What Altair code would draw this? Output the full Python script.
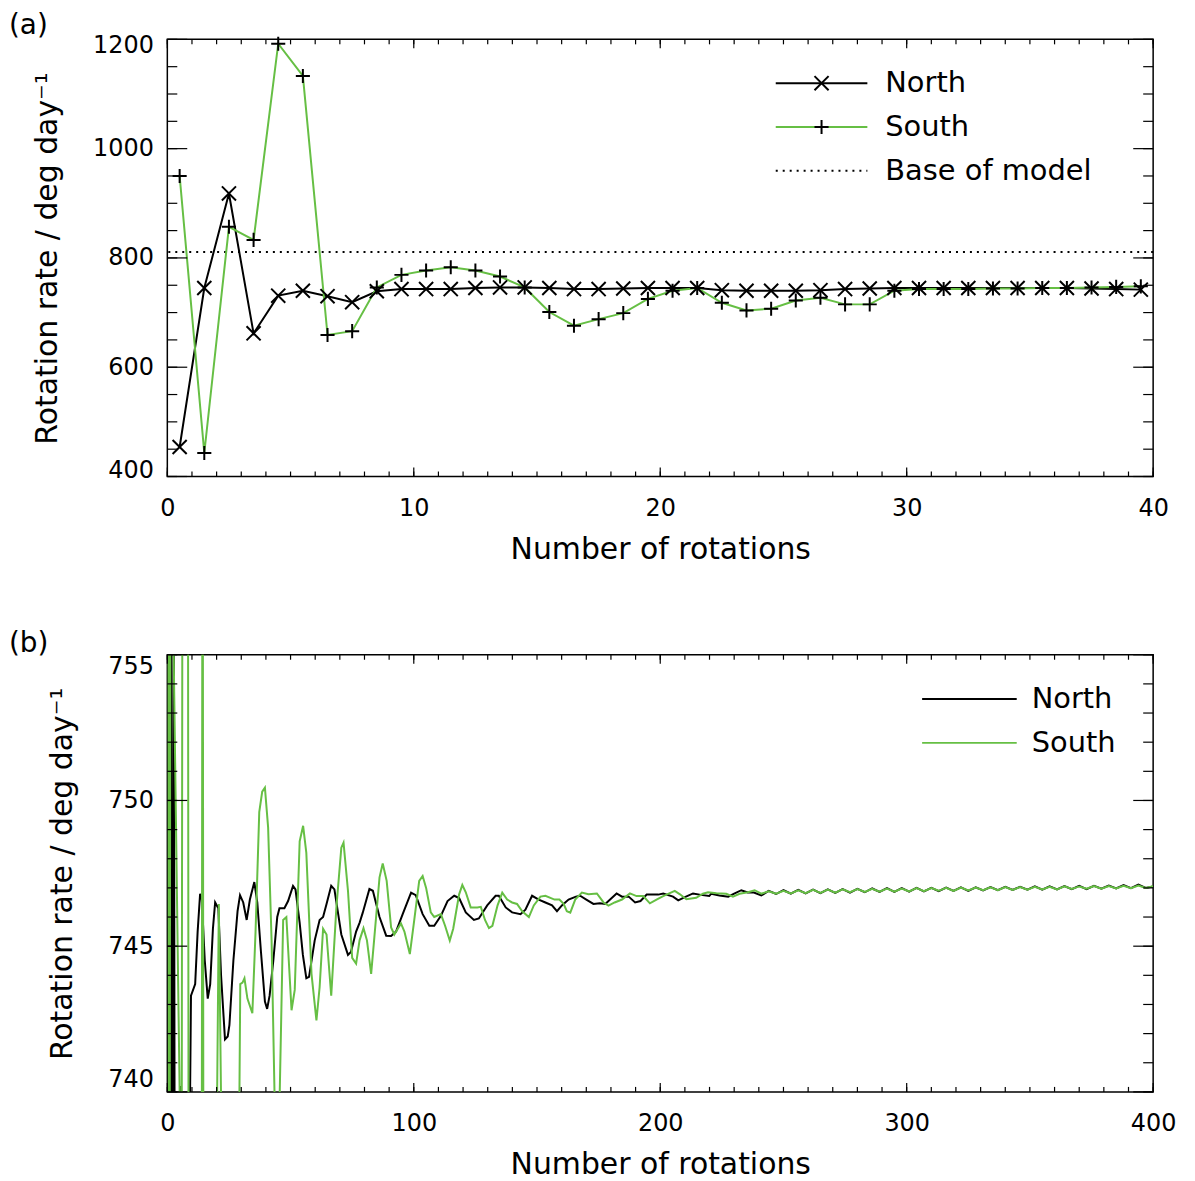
import altair as alt
import pandas as pd

# ---------------- Panel (a) data ----------------
rot_a = [0.5 + i for i in range(40)]
north_a = [454, 745, 918, 662, 731, 740, 730, 719, 739, 743,
           743, 743, 745, 746, 746, 745, 743, 743, 744, 745,
           745, 745, 741, 740, 740, 740, 741, 743, 744, 745,
           745, 745, 745, 745, 745, 745, 745, 744, 743, 742]
south_a = [950, 443, 857, 833, 1192, 1133, 659, 666, 746, 769,
           777, 783, 777, 766, 746, 701, 676, 688, 699, 725,
           740, 745, 718, 704, 707, 722, 727, 715, 715, 740,
           743, 743, 743, 744, 744, 745, 745, 746, 747, 748]
base_of_model = [811]

# ---------------- Panel (b) data ----------------
north_b_x = [0.4, 0.9, 1.5, 2.0, 2.6, 3.2, 4.0, 5.3, 6.5, 8.8, 9.6, 11.3, 12.3, 13.3, 14.0,
             15.2, 16.4, 17.4, 18.5, 19.4, 20.7, 21.8, 23.4, 24.5, 25.2, 26.8, 28.5, 29.5,
             30.8, 32.2, 33.5, 35.3, 36.5, 38.0, 39.6, 40.5, 41.5, 43.0, 44.6, 45.5, 47.5,
             49.0, 51.0, 52.0, 53.7, 55.0, 56.4, 57.5, 59.8, 61.8, 63.2, 64.6, 66.5, 67.8,
             70.6, 73.3, 74.5, 76.6, 78.0, 79.3, 82.0, 83.4, 86.1, 88.8, 90.8, 92.8, 95.5,
             98.9, 100.8, 103.6, 106.3, 108.3, 111.0, 113.7, 116.4, 118.4, 121.1, 124.4,
             126.4, 129.8, 133.2, 134.5, 137.3, 139.9, 143.3, 145.3, 148.0, 150.7, 153.4,
             156.1, 158.1, 160.1, 162.8, 165.8, 167.5, 170.0, 172.9, 175.5, 177.7, 182.3,
             184.5, 187.2, 189.8, 192.0, 194.5, 199.2, 201.2, 205.2, 207.3, 210.0, 213.3,
             216.5, 219.9, 220.7, 224.0, 227.6, 230.0, 232.9, 235.5, 238.0,
             241, 244, 247, 250, 253, 256, 259, 262, 265, 268, 271, 274, 277, 280, 283,
             286, 289, 292, 295, 298, 301, 304, 307, 310, 313, 316, 319, 322, 325, 328,
             331, 334, 337, 340, 343, 346, 349, 352, 355, 358, 361, 364, 367, 370, 373,
             376, 379, 382, 385, 388, 391, 394, 397, 400]
north_b_y = [760, 720, 762, 722, 758, 725, 736, 740.2, 735, 736, 743.3, 743.7, 745.5, 746.8, 746.6,
             744.5, 743.2, 743.7, 745.6, 746.5, 746.3, 744.0, 741.8, 741.9, 742.3, 744.5, 746.2, 746.75,
             746.5, 745.9, 746.6, 747.2, 746.5, 744.8, 743.1, 742.85, 743.3, 744.5, 746.0, 746.3, 746.3,
             746.55, 747.07, 746.95, 745.8, 744.7, 743.9, 743.95, 745.2, 745.9, 746.0, 746.45, 747.07, 746.95,
             745.4, 744.7, 744.8, 745.5, 745.8, 746.15, 746.96, 746.9, 746.0, 745.36, 745.35, 745.5, 746.1,
             746.84, 746.75, 746.1, 745.7, 745.7, 746.04, 746.55, 746.73, 746.65, 746.16, 745.9,
             745.95, 746.4, 746.73, 746.73, 746.33, 746.16, 746.1, 746.25, 746.73, 746.6, 746.5,
             746.4, 746.2, 746.4, 746.6, 746.7, 746.73, 746.6, 746.45, 746.47, 746.45, 746.81,
             746.7, 746.7, 746.5, 746.55, 746.77, 746.77, 746.81, 746.7, 746.57, 746.68, 746.81,
             746.76, 746.72, 746.8, 746.74, 746.7, 746.8, 746.92, 746.84, 746.84,
             746.74, 746.90, 746.79, 746.92, 746.80, 746.93, 746.81, 746.94, 746.82, 746.95,
             746.83, 746.96, 746.84, 746.97, 746.85, 746.98, 746.86, 746.99, 746.86, 746.99,
             746.87, 747.00, 746.88, 747.00, 746.89, 747.01, 746.90, 747.02, 746.90, 747.02,
             746.91, 747.03, 746.92, 747.04, 746.93, 747.04, 746.94, 747.05, 746.94, 747.05,
             746.95, 747.06, 746.96, 747.07, 746.96, 747.07, 746.97, 747.08, 746.98, 747.10,
             746.99, 747.11, 747.00, 747.05]

south_b_x = [0.3, 0.8, 1.3, 5.8, 6.2, 8.3, 8.7, 13.9, 14.3, 14.7, 19.8, 20.9,
             22.3, 26.0, 28.9, 29.6, 30.5, 31.3, 32.5, 34.5, 35.8, 37.3, 38.5, 39.6, 40.9,
             42.3, 43.6, 44.5, 45.5, 47.0, 48.3, 50.4, 51.7, 53.7, 55.1, 56.4, 58.5, 60.5,
             61.8, 63.2, 64.6, 66.5, 68.6, 70.6, 71.5, 73.3, 75.0, 76.6, 78.0, 79.6, 81.0,
             82.7, 84.0, 86.1, 87.4, 89.0, 90.8, 92.1, 94.8, 96.2, 98.4, 100.2, 102.2, 103.6,
             105.0, 106.9, 108.3, 111.0, 112.7, 114.6, 116.0, 118.4, 119.7, 121.1, 123.1,
             125.8, 127.2, 128.9, 130.5, 131.9, 134.0, 135.9, 137.9, 139.9, 141.9, 144.0,
             146.7, 148.7, 151.4, 153.4, 157.1, 159.1, 160.8, 162.1, 163.5, 165.5, 168.2,
             170.9, 174.3, 177.0, 179.0, 181.5, 184.5, 187.7, 190.4, 193.1, 195.8, 198.5,
             201.2, 205.9, 208.0, 210.6, 214.6, 217.3, 219.4, 222.8, 226.8, 229.5, 232.2,
             235.6, 238.3,
             241, 244, 247, 250, 253, 256, 259, 262, 265, 268, 271, 274, 277, 280, 283,
             286, 289, 292, 295, 298, 301, 304, 307, 310, 313, 316, 319, 322, 325, 328,
             331, 334, 337, 340, 343, 346, 349, 352, 355, 358, 361, 364, 367, 370, 373,
             376, 379, 382, 385, 388, 391, 394, 397, 400]
south_b_y = [765, 724, 763, 735, 765, 766, 730, 728, 768, 730, 736, 746.45,
             736, 732, 736, 743.7, 743.75, 743.9, 743.2, 742.7, 745.5, 749.6, 750.3, 750.44, 749.07,
             745.2, 739.5, 738.5, 739.5, 745.9, 746.0, 742.8, 743.5, 748.6, 749.13, 748.2, 744.05, 742.45,
             743.6, 745.6, 745.4, 743.3, 746.33, 748.38, 748.55, 746.9, 744.6, 744.4, 745.2, 745.62, 745.2,
             744.05, 745.3, 747.36, 747.84, 747.24, 745.64, 745.4, 745.78, 745.5, 744.73, 745.9, 747.24, 747.41,
             747.0, 746.16, 746.0, 746.1, 745.7, 745.19, 745.6, 746.78, 747.1, 746.85, 746.33,
             746.33, 746.35, 745.9, 745.62, 745.7, 746.4, 746.84, 746.6, 746.5, 746.45, 746.2,
             746.0, 746.4, 746.7, 746.73, 746.6, 746.6, 746.45, 746.2, 746.15, 746.6, 746.84,
             746.78, 746.81, 746.5, 746.39, 746.5, 746.6, 746.81, 746.72, 746.72, 746.47, 746.6,
             746.72, 746.9, 746.78, 746.61, 746.66, 746.8, 746.85, 746.82, 746.8, 746.7, 746.8,
             746.85, 746.92,
             746.80, 746.88, 746.80, 746.90, 746.81, 746.92, 746.82, 746.93, 746.83, 746.94,
             746.84, 746.95, 746.85, 746.96, 746.86, 746.97, 746.87, 746.98, 746.87, 746.98,
             746.88, 746.99, 746.89, 746.99, 746.90, 747.00, 746.90, 747.01, 746.91, 747.01,
             746.92, 747.02, 746.92, 747.03, 746.93, 747.03, 746.94, 747.04, 746.95, 747.04,
             746.95, 747.05, 746.96, 747.05, 746.97, 747.06, 746.97, 747.06, 746.98, 747.07,
             746.99, 747.08, 747.00, 747.06]

# ---------------- axis tick values ----------------
xa_major = [0, 10, 20, 30, 40]
xa_minor = list(range(0, 41, 1))
ya_major = [400, 600, 800, 1000, 1200]
ya_minor = list(range(400, 1201, 50))
xb_major = [0, 100, 200, 300, 400]
xb_minor = list(range(0, 401, 10))
yb_major = [740, 745, 750, 755]
yb_minor = list(range(740, 756, 1))

series_names = ["North", "South"]
legend_a_extra = "Base of model"

# ---------------- style ----------------
W, H = 990, 439
FONT = "DejaVu Sans"
GREEN = "#66bf44"
LBL = 24
TTL = 30
LEG = 29
XMARK = "M-1,-1L1,1M-1,1L1,-1"
PLUS = "M-1,0L1,0M0,-1L0,1"
YTITLE = "Rotation rate / deg day\u207b\u00b9"


def x_axis(vals):
    return alt.Axis(values=vals, format="d", ticks=False, domain=False, grid=False,
                    labelFont=FONT, labelFontSize=LBL, labelPadding=20, labelColor="black",
                    title="Number of rotations", titleFont=FONT, titleFontSize=TTL,
                    titleFontWeight="normal", titlePadding=14, titleColor="black",
                    labelFlush=False)


def y_axis(vals, flush_off):
    return alt.Axis(values=vals, format="d", ticks=False, domain=False, grid=False,
                    labelFont=FONT, labelFontSize=LBL, labelPadding=14, labelColor="black",
                    labelFlush=True, labelFlushOffset=flush_off,
                    title=YTITLE, titleFont=FONT, titleFontSize=TTL,
                    titleFontWeight="normal", titlePadding=30, titleColor="black")


def tick_layers(xs, ys, xax, yax, xmaj, xmin, ymaj, ymin):
    out = []
    for vals, ln in ((xmaj, 9), (xmin, 5)):
        d = pd.DataFrame({"rot": vals})
        out.append(alt.Chart(d).mark_rule(color="black", strokeWidth=1.2).encode(
            x=alt.X("rot:Q", scale=xs, axis=xax), y=alt.value(H), y2=alt.value(H - ln)))
        out.append(alt.Chart(d).mark_rule(color="black", strokeWidth=1.2).encode(
            x=alt.X("rot:Q", scale=xs, axis=xax), y=alt.value(0), y2=alt.value(ln)))
    for vals, ln in ((ymaj, 20), (ymin, 10)):
        d = pd.DataFrame({"rate": vals})
        out.append(alt.Chart(d).mark_rule(color="black", strokeWidth=1.2).encode(
            y=alt.Y("rate:Q", scale=ys, axis=yax), x=alt.value(0), x2=alt.value(ln)))
        out.append(alt.Chart(d).mark_rule(color="black", strokeWidth=1.2).encode(
            y=alt.Y("rate:Q", scale=ys, axis=yax), x=alt.value(W), x2=alt.value(W - ln)))
    return out


def legend_row(label, y, x0, x1, xt, color, dash=None, shape=None):
    d = pd.DataFrame({"label": [label]})
    rule_kwargs = dict(color=color, strokeWidth=2)
    if dash:
        rule_kwargs["strokeDash"] = dash
    parts = [alt.Chart(d).mark_rule(**rule_kwargs).encode(
        x=alt.value(x0), x2=alt.value(x1), y=alt.value(y))]
    if shape:
        parts.append(alt.Chart(d).mark_point(shape=shape, filled=False, stroke="black",
                                             strokeWidth=2, size=200, opacity=1).encode(
            x=alt.value((x0 + x1) / 2), y=alt.value(y)))
    parts.append(alt.Chart(d).mark_text(align="left", baseline="middle", font=FONT,
                                        fontSize=LEG, color="black").encode(
        text="label:N", x=alt.value(xt), y=alt.value(y)))
    return parts


# ---------------- Panel (a) ----------------
xs_a = alt.Scale(domain=[0, 40], nice=False, zero=False)
ys_a = alt.Scale(domain=[400, 1200], nice=False, zero=False)
xax_a = x_axis(xa_major)
yax_a = y_axis(ya_major, 6)

n_a = pd.DataFrame({"rot": rot_a, "rate": north_a})
s_a = pd.DataFrame({"rot": rot_a, "rate": south_a})


def enc_a(ch):
    return ch.encode(x=alt.X("rot:Q", scale=xs_a, axis=xax_a),
                     y=alt.Y("rate:Q", scale=ys_a, axis=yax_a))


line_n_a = enc_a(alt.Chart(n_a).mark_line(color="black", strokeWidth=2))
line_s_a = enc_a(alt.Chart(s_a).mark_line(color=GREEN, strokeWidth=2))
pts_n_a = enc_a(alt.Chart(n_a).mark_point(shape=XMARK, filled=False, stroke="black",
                                          strokeWidth=2, size=200, opacity=1))
pts_s_a = enc_a(alt.Chart(s_a).mark_point(shape=PLUS, filled=False, stroke="black",
                                          strokeWidth=2, size=200, opacity=1))
base_a = alt.Chart(pd.DataFrame({"rate": base_of_model})).mark_rule(
    color="black", strokeWidth=2, strokeDash=[2, 5]).encode(
    y=alt.Y("rate:Q", scale=ys_a, axis=yax_a))

leg_a = (legend_row(series_names[0], 44, 611, 703, 721, "black", shape=XMARK)
         + legend_row(series_names[1], 88, 611, 703, 721, GREEN, shape=PLUS)
         + legend_row(legend_a_extra, 132, 611, 703, 721, "black", dash=[2, 5]))

panel_a = alt.layer(
    line_n_a, base_a, line_s_a, pts_s_a, pts_n_a,
    *tick_layers(xs_a, ys_a, xax_a, yax_a, xa_major, xa_minor, ya_major, ya_minor), *leg_a
).properties(
    width=W, height=H,
    title=alt.TitleParams("(a)", anchor="start", frame="group", dx=-159,
                          fontSize=28, font=FONT, fontWeight="normal", color="black", offset=-7)
)

# ---------------- Panel (b) ----------------
xs_b = alt.Scale(domain=[0, 400], nice=False, zero=False)
ys_b = alt.Scale(domain=[740, 755], nice=False, zero=False)
xax_b = x_axis(xb_major)
yax_b = y_axis(yb_major, 0)

n_b = pd.DataFrame({"rot": north_b_x, "rate": north_b_y})
s_b = pd.DataFrame({"rot": south_b_x, "rate": south_b_y})


def enc_b(ch):
    return ch.encode(x=alt.X("rot:Q", scale=xs_b, axis=xax_b),
                     y=alt.Y("rate:Q", scale=ys_b, axis=yax_b))


line_n_b = enc_b(alt.Chart(n_b).mark_line(color="black", strokeWidth=2, clip=True))
line_s_b = enc_b(alt.Chart(s_b).mark_line(color=GREEN, strokeWidth=2, clip=True))

leg_b = (legend_row(series_names[0], 44.5, 758, 853, 868, "black")
         + legend_row(series_names[1], 88.5, 758, 853, 868, GREEN))

panel_b = alt.layer(
    line_n_b, line_s_b,
    *tick_layers(xs_b, ys_b, xax_b, yax_b, xb_major, xb_minor, yb_major, yb_minor), *leg_b
).properties(
    width=W, height=H,
    title=alt.TitleParams("(b)", anchor="start", frame="group", dx=-159,
                          fontSize=28, font=FONT, fontWeight="normal", color="black", offset=-4)
)

chart = alt.vconcat(panel_a, panel_b, spacing=64).properties(
    padding={"left": 0, "top": 0, "right": 10, "bottom": 0}
).configure(background="white").configure_view(stroke="black", strokeWidth=1.5)

chart.save("out.html", embed_options={"renderer": "svg", "actions": False})
